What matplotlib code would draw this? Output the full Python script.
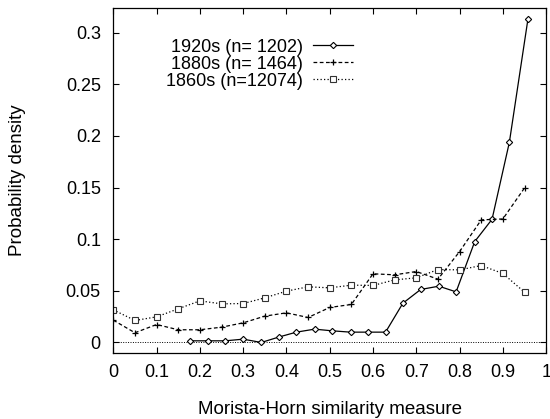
import matplotlib
matplotlib.use("Agg")
import matplotlib.pyplot as plt
from matplotlib.ticker import FuncFormatter

plt.rcParams['font.family'] = ['Liberation Sans', 'DejaVu Sans']

# 1920s (n= 1202)
x1920 = [0.177, 0.219, 0.259, 0.300, 0.342, 0.382, 0.423, 0.465, 0.505, 0.548,
         0.588, 0.629, 0.669, 0.710, 0.752, 0.792, 0.835, 0.875, 0.915, 0.958]
y1920 = [0.0016, 0.0016, 0.0016, 0.0032, 0.0000, 0.0052, 0.0100, 0.0129, 0.0113, 0.0100,
         0.0100, 0.0100, 0.0380, 0.0513, 0.0545, 0.0490, 0.0977, 0.1193, 0.1938, 0.3133]

# 1880s (n= 1464) and 1860s (n=12074), bins every 0.05
x_bins = [0.00, 0.05, 0.10, 0.15, 0.20, 0.25, 0.30, 0.35, 0.40, 0.45,
          0.50, 0.55, 0.60, 0.65, 0.70, 0.75, 0.80, 0.85, 0.90, 0.95]
y1880 = [0.0216, 0.0094, 0.0174, 0.0123, 0.0123, 0.0148, 0.0190, 0.0255, 0.0287, 0.0242,
         0.0339, 0.0368, 0.0665, 0.0655, 0.0687, 0.0613, 0.0880, 0.1187, 0.1196, 0.1496]
y1860 = [0.0316, 0.0213, 0.0248, 0.0326, 0.0403, 0.0374, 0.0377, 0.0432, 0.0497, 0.0539,
         0.0529, 0.0555, 0.0552, 0.0606, 0.0626, 0.0706, 0.0703, 0.0745, 0.0668, 0.0487]

labels = ["1920s (n= 1202)", "1880s (n= 1464)", "1860s (n=12074)"]

fig = plt.figure(figsize=(5.5, 4.19), dpi=100)
ax = fig.add_axes([0.206, 0.158, 0.787, 0.822])

ax.axhline(0, color='black', lw=0.7, ls=(0, (1, 1.5)), zorder=1)

ax.plot(x1920, y1920, color='black', lw=0.9, marker='D', ms=3.2, mfc='white',
        mec='black', mew=0.8, label=labels[0])
ax.plot(x_bins, y1880, color='black', lw=0.9, ls=(0, (3, 2)), marker='+', ms=5,
        mew=0.9, label=labels[1])
ax.plot(x_bins, y1860, color='black', lw=0.9, ls=(0, (1, 1.8)), marker='s', ms=4.5,
        mfc='white', mec='#333333', mew=0.8, label=labels[2])

ax.set_xlim(0, 1)
ax.set_ylim(-0.01, 0.3235)
ax.set_xticks([i / 10 for i in range(11)])
ax.set_yticks([0, 0.05, 0.1, 0.15, 0.2, 0.25, 0.3])
ax.xaxis.set_major_formatter(FuncFormatter(lambda v, p: f"{v:g}"))
ax.yaxis.set_major_formatter(FuncFormatter(lambda v, p: f"{v:g}"))
ax.tick_params(direction='in', length=4, width=0.8, top=True, right=True,
               labelsize=13)
ax.tick_params(axis='x', pad=8)
ax.tick_params(axis='y', pad=9)
for s in ax.spines.values():
    s.set_linewidth(0.9)

ax.set_xlabel("Morista-Horn similarity measure", fontsize=13.5)
ax.set_ylabel("Probability density", fontsize=13.5)
ax.xaxis.set_label_coords(0.5, -0.14)
ax.yaxis.set_label_coords(-0.201, 0.5)

ax.legend(loc='upper right', bbox_to_anchor=(0.553, 0.912), frameon=False,
          markerfirst=False, fontsize=13, handlelength=2.2, handletextpad=0.55,
          labelspacing=0.0, borderpad=0, borderaxespad=0)

fig.savefig("out.png", dpi=100)
